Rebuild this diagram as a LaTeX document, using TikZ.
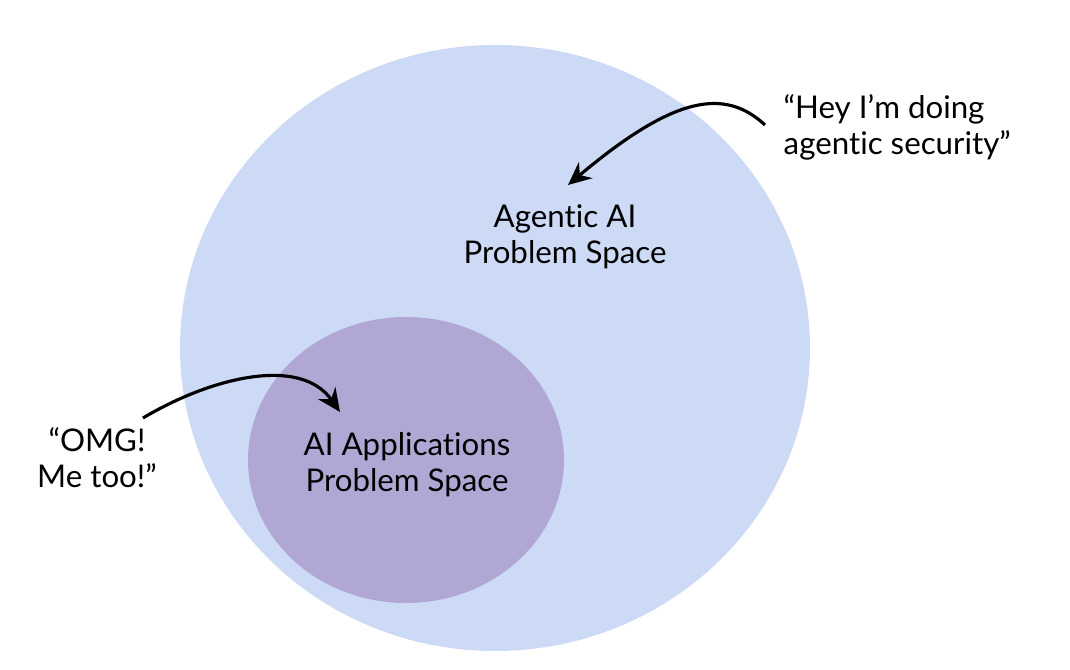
\documentclass[tikz,border=0pt]{standalone}
\usepackage{fontspec}
\setmainfont[Ligatures={NoCommon,NoRare}]{Lato}
\usepackage{xcolor}
\usepackage{tikz}
\usetikzlibrary{positioning,arrows.meta,calc}
\definecolor{outerblue}{RGB}{204,218,245}
\definecolor{innerpurple}{RGB}{177,167,212}
\tikzset{
label/.style={
align=center,
inner sep=0pt,
font=\fontsize{8.9}{10.2}\selectfont
},
quote/.style={
label,
align=left
},
arrow/.style={
-{Stealth[length=2.3mm,width=2.1mm]},
line width=0.9pt,
black
}
}

\begin{document}
\begin{tikzpicture}
\useasboundingbox (0,0) rectangle (10.7,6.7);
\fill[outerblue] (4.95,3.22) ellipse [x radius=3.15, y radius=3.03];
\fill[innerpurple] (4.06,2.10) ellipse [x radius=1.58, y radius=1.43];

\node[label](agentic) at (5.65,4.33){Agentic AI\\Problem Space};
\node[label](apps) at (4.07,2.05){AI Applications\\Problem Space};
\node[quote,anchor=west](hey) at (7.83,5.43){“Hey I’m doing\\agentic security”};
\node[label](omg) at (0.97,2.12){“OMG!\\Me too!”};

\coordinate (heytail) at (7.65,5.45);
\coordinate (heytip) at (5.68,4.85);
\coordinate (omgtail) at (1.43,2.52);
\coordinate (omgtip) at (3.40,2.58);

\draw[arrow](heytail) .. controls (7.25,5.82) and (6.75,5.75) .. (heytip);
\draw[arrow](omgtail) .. controls (2.10,2.92) and (3.00,3.15) .. (omgtip);
\end{tikzpicture}
\end{document}
